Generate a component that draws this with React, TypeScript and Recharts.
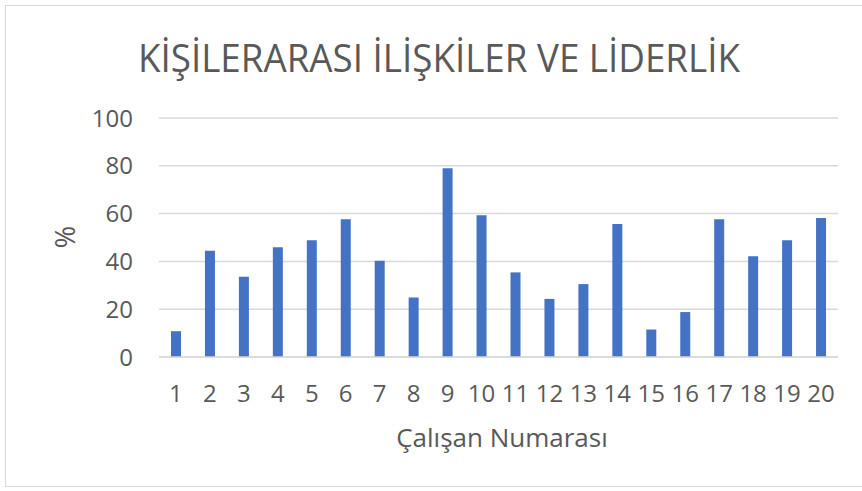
import React from 'react'
import { BarChart, Bar, XAxis, YAxis, CartesianGrid } from 'recharts'

const employees = ['1', '2', '3', '4', '5', '6', '7', '8', '9', '10', '11', '12', '13', '14', '15', '16', '17', '18', '19', '20']
const percents = [10.8, 44.5, 33.6, 45.9, 48.8, 57.6, 40.3, 24.9, 79, 59.3, 35.4, 24.3, 30.5, 55.7, 11.5, 18.8, 57.6, 42.2, 48.8, 58.2]
const yTicks = [0, 20, 40, 60, 80, 100]

const chartTitle = 'KİŞİLERARASI İLİŞKİLER VE LİDERLİK'
const xTitle = 'Çalışan Numarası'
const yTitle = '%'

const data = employees.map((name, i) => ({ name, value: percents[i] }))

const textColor = '#595959'
const font = '"Open Sans", sans-serif'

const App = () => {
  return (
    <div
      style={{
        position: 'absolute',
        top: 0,
        left: 0,
        width: 862,
        height: 491,
        background: '#fff',
        overflow: 'hidden',
      }}
    >
      <div
        style={{
          position: 'absolute',
          left: 5,
          top: 5,
          width: 870,
          height: 482,
          border: '1.5px solid #d9d9d9',
          boxSizing: 'border-box',
        }}
      />
      <BarChart
        width={862}
        height={491}
        data={data}
        margin={{ top: 118, right: 24, left: 99, bottom: 104 }}
        style={{ position: 'absolute', top: 0, left: 0 }}
      >
        <CartesianGrid vertical={false} stroke="#d9d9d9" strokeWidth={1.5} />
        <XAxis
          dataKey="name"
          height={30}
          interval={0}
          tickLine={false}
          tickSize={0}
          tickMargin={28}
          axisLine={{ stroke: '#d9d9d9', strokeWidth: 1.5 }}
          tick={{ fill: textColor, fontSize: 24, fontFamily: font }}
        />
        <YAxis
          width={60}
          domain={[0, 100]}
          ticks={yTicks}
          axisLine={false}
          tickLine={false}
          tickSize={0}
          tickMargin={26}
          tick={{ fill: textColor, fontSize: 24, fontFamily: font }}
        />
        <Bar dataKey="value" fill="#4472c4" barSize={10} isAnimationActive={false} />
      </BarChart>
      <svg
        width={862}
        height={491}
        style={{ position: 'absolute', top: 0, left: 0, pointerEvents: 'none' }}
        fontFamily={font}
        fill={textColor}
      >
        <text x={138} y={72} fontSize={38} textLength={602} lengthAdjust="spacingAndGlyphs">
          {chartTitle}
        </text>
        <text x={502} y={447} fontSize={26} textAnchor="middle">
          {xTitle}
        </text>
        <text
          x={64}
          y={237}
          fontSize={27}
          textAnchor="middle"
          dominantBaseline="central"
          transform="rotate(-90 64 237)"
        >
          {yTitle}
        </text>
      </svg>
    </div>
  )
}

export default App
